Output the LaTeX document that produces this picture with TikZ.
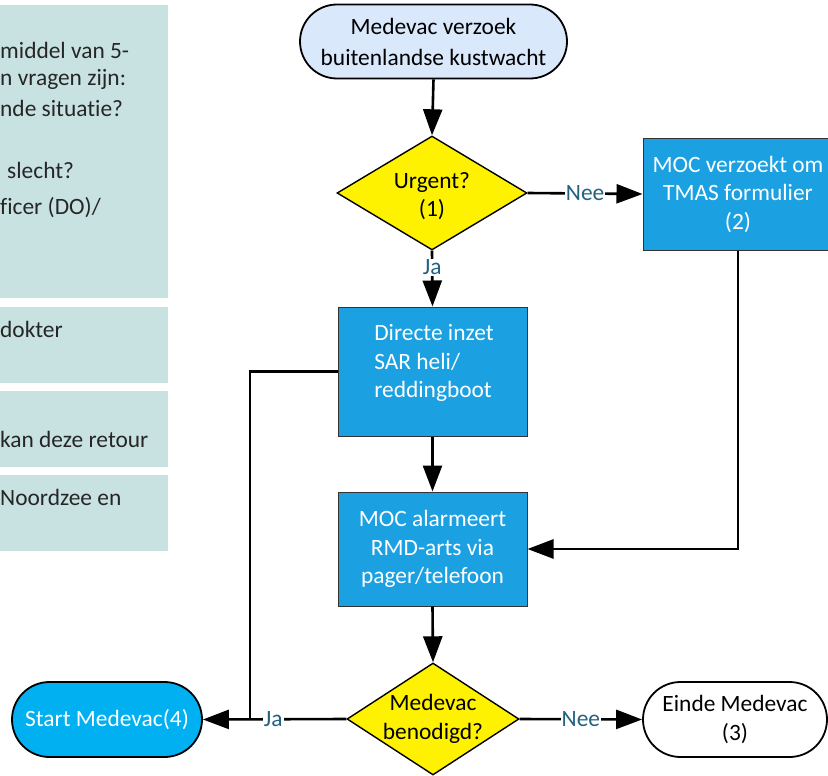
\documentclass[tikz,border=0pt]{standalone}
\usepackage{fontspec}
\setmainfont{Carlito}[Ligatures=NoCommon]
\usetikzlibrary{shapes.geometric,shapes.misc,arrows.meta}
\definecolor{panel}{RGB}{200,226,226}
\definecolor{startfill}{RGB}{218,232,252}
\definecolor{boxblue}{RGB}{27,161,226}
\definecolor{cyanfill}{RGB}{0,176,240}
\definecolor{lblcol}{RGB}{35,98,128}
\tikzset{
  txt/.style={font=\fontsize{23.4}{28.5}\selectfont},
  term/.style={txt, rounded rectangle, draw=black, line width=1.8pt, align=center, inner sep=0pt},
  procbox/.style={txt, rectangle, draw=black!80, line width=1pt, fill=boxblue, text=white, align=center, inner sep=0pt},
  decision/.style={diamond, draw=black, line width=1.4pt, fill=yellow, inner sep=0pt},
  lbl/.style={txt, fill=white, text=lblcol, inner sep=1pt},
  paneltext/.style={txt, anchor=base west, inner sep=0pt, text=black!85},
  conn/.style={line width=2.6pt, draw=black},
  arr/.style={conn, -{Triangle[length=26pt,width=19pt]}},
}
\begin{document}
\begin{tikzpicture}[x=1pt,y=-1pt]
\useasboundingbox (0,0) rectangle (828,776);
\begin{scope}
\clip (0,0) rectangle (828,776);
% left panels
\fill[panel] (-5,5) rectangle (168,298);
\fill[panel] (-5,307) rectangle (168,383);
\fill[panel] (-5,391) rectangle (168,467);
\fill[panel] (-5,475) rectangle (168,551);
\node[paneltext] (p1) at (0,59) {middel van 5-};
\node[paneltext] (p2) at (0,85) {n vragen zijn:};
\node[paneltext] (p3) at (0,117) {nde situatie?};
\node[paneltext] (p4) at (7,178) {slecht?};
\node[paneltext] (p5) at (0,214) {ficer (DO)/};
\node[paneltext] (p6) at (0,337) {dokter};
\node[paneltext] (p7) at (0,447) {kan deze retour};
\node[paneltext] (p8) at (0,505) {Noordzee en};

% flowchart nodes
\node[term, fill=startfill, minimum width=267pt, minimum height=74pt,
      font=\fontsize{23.4}{31}\selectfont] (start) at (433.5,41.5)
      {Medevac verzoek\\buitenlandse kustwacht};
\node[decision, minimum width=190pt, minimum height=114pt] (urg) at (432,193) {};
\node[txt, align=center, inner sep=0pt] (urgt) at (432,196) {Urgent?\\(1)};
\node[procbox, minimum width=190pt, minimum height=112pt] (moc2) at (738,194)
      {MOC verzoekt om\\TMAS formulier\\(2)};
\node[procbox, minimum width=189pt, minimum height=129pt] (dir) at (432.5,371.5) {};
\node[txt, text=white, align=left, inner sep=0pt] (dirt) at (434,363)
      {Directe inzet\\SAR heli/\\reddingboot};
\node[procbox, minimum width=189pt, minimum height=114pt] (alarm) at (432.5,549)
      {MOC alarmeert\\RMD-arts via\\pager/telefoon};
\node[decision, minimum width=172pt, minimum height=112pt] (med) at (433,719) {};
\node[txt, align=center, inner sep=0pt] (medt) at (433,719) {Medevac\\benodigd?};
\node[term, fill=white, minimum width=184pt, minimum height=75pt] (einde) at (735,719.5)
      {Einde Medevac\\(3)};
\node[term, fill=cyanfill, text=white, minimum width=190pt, minimum height=75pt] (smed) at (107,719.5)
      {Start Medevac(4)};
\coordinate (j) at (250,719);

% connectors
\draw[arr] (start.south) -- (urg.north);
\draw[arr] (urg.east) -- node[lbl] {Nee} (moc2.west);
\draw[arr] (urg.south) -- node[lbl, pos=0.3] {Ja} (dir.north);
\draw[arr] (moc2.south) |- (alarm.east);
\draw[arr] (dir.south) -- (alarm.north);
\draw[arr] (alarm.south) -- (med.north);
\draw[arr] (med.east) -- node[lbl, pos=0.5] {Nee} (einde.west);
\draw[arr] (med.west) -- node[lbl, pos=0.51] {Ja} (smed.east);
\draw[conn] (dir.west) -| (j);
\end{scope}
\end{tikzpicture}
\end{document}
